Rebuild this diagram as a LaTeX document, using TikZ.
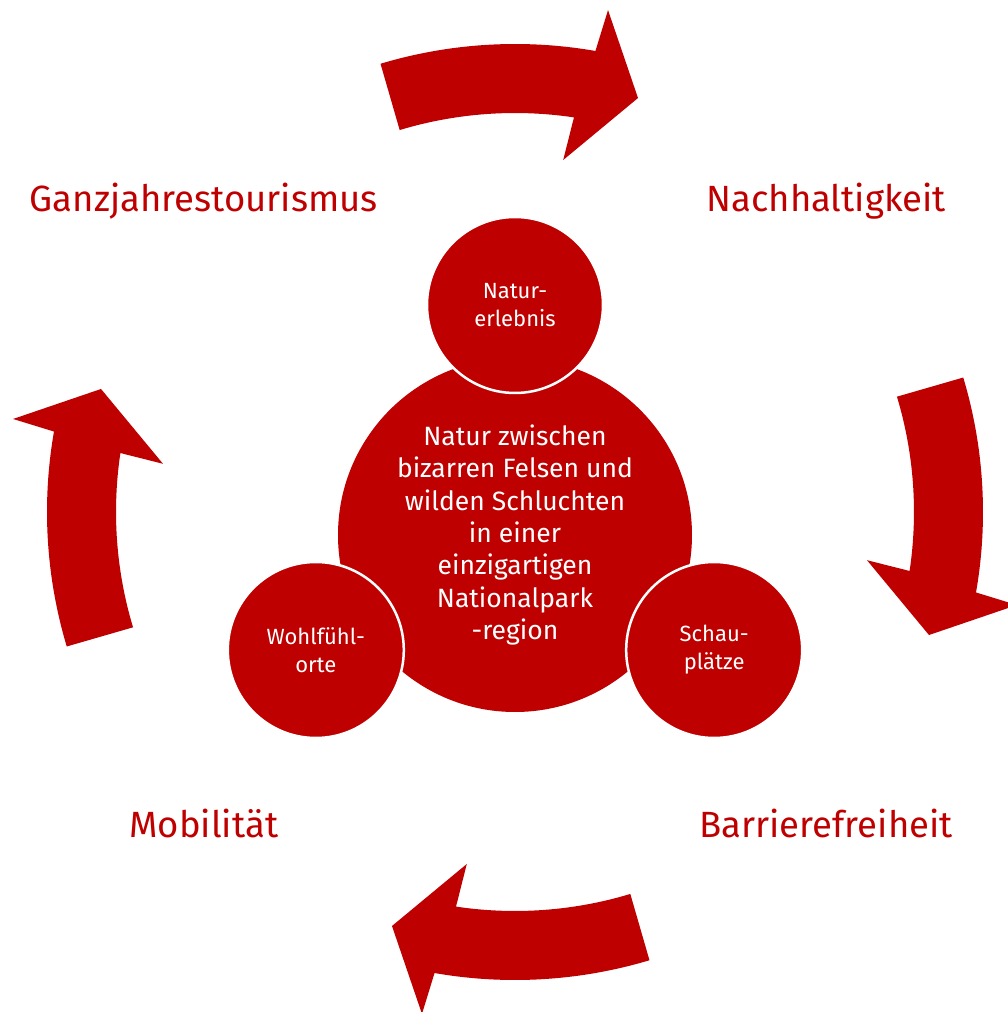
\documentclass[tikz,border=0pt]{standalone}
\usepackage{fontspec}
\setmainfont{Fira Sans}
\usetikzlibrary{calc}
\usetikzlibrary{positioning}
\definecolor{parkred}{HTML}{BE0000}

\begin{document}
\begin{tikzpicture}[x=1pt, y=1pt,                                                             % Pixel-like units
        core/.style = {circle, fill=parkred, minimum size=354pt, inner sep=0pt, text=white,
                       align=center, font=\fontsize{26.5}{32.3}\selectfont},                   % Central circle
        satellite/.style = {circle, fill=parkred, draw=white, line width=2.5pt, minimum size=176pt,
                            inner sep=0pt, text=white, align=center, font=\fontsize{22}{28}\selectfont}, % Small circles
        topic/.style = {text=parkred, font=\fontsize{36.5}{40}\selectfont},                    % Outer labels
        turnarrow/.style = {fill=parkred}]                                                     % Curved arrows
    \useasboundingbox (-515,-500) rectangle (492,512);
    %circles
    \node[core] (core) at (0,-23) {Natur zwischen\\bizarren Felsen und\\wilden Schluchten\\in einer\\einzigartigen\\Nationalpark\\-region};
    \node[satellite] (erlebnis) at ($(core)+(90:230)$) {Natur-\\erlebnis};
    \node[satellite] (schau) at ($(core)+(-30:230)$) {Schau-\\plätze};
    \node[satellite] (wohl) at ($(core)+(210:230)$) {Wohlfühl-\\orte};
    %labels
    \node[topic] (ganzjahr) at (135:440) {Ganzjahrestourismus};
    \node[topic] (nachhalt) at (45:440) {Nachhaltigkeit};
    \node[topic] (barriere) at (-45:440) {Barrierefreiheit};
    \node[topic] (mobil) at (-135:440) {Mobilität};
    %arrows
    \foreach \turn in {0,-90,-180,-270}
        \fill[turnarrow, rotate=\turn] (106.7:468) arc[start angle=106.7, end angle=80.1, radius=468]
            -- (79.5:510.5) -- (73.45:431.9) -- (82.2:355.3) -- (81.5:399)
            arc[start angle=81.5, end angle=106.8, radius=399] -- cycle;
\end{tikzpicture}
\end{document}
